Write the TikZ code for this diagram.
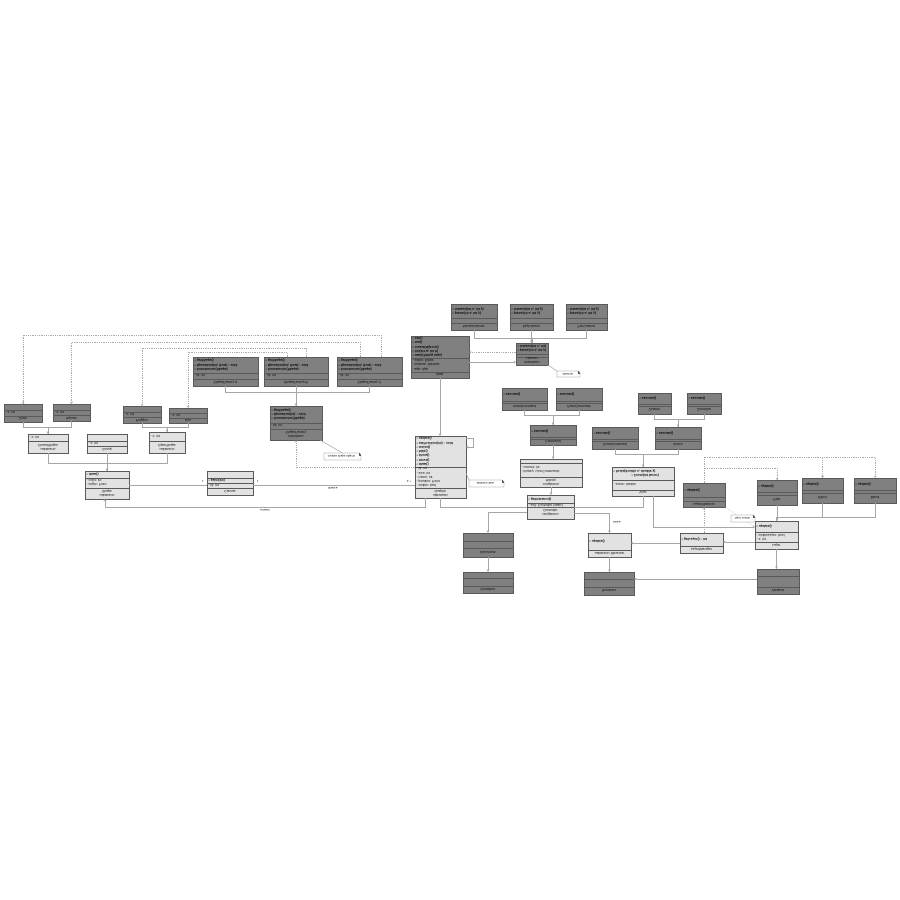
\documentclass[tikz,border=0pt]{standalone}
\usepackage{fontspec}
\setmainfont{Liberation Sans}
\newfontfamily\djv{DejaVu Sans}
\usetikzlibrary{fit,arrows.meta}
\definecolor{dkfill}{HTML}{808080}
\definecolor{ltfill}{HTML}{E2E2E2}
\definecolor{bdr}{HTML}{5A5A5A}
\definecolor{wirec}{HTML}{A6A6A6}
\definecolor{dotc}{HTML}{ABABAB}
\tikzset{
  darkcls/.style={draw=bdr, fill=dkfill, line width=0.5pt},
  lightcls/.style={draw=bdr, fill=ltfill, line width=0.5pt},
  cmpsep/.style={draw=bdr, line width=0.35pt},
  txt/.style={font=\fontsize{3.3}{4.3}\selectfont, inner sep=0pt, yscale=-1, align=left, anchor=west},
  nm/.style={txt, align=center, anchor=center},
  lbl/.style={font=\fontsize{2.8}{3.2}\selectfont, inner sep=0pt, yscale=-1},
  wire/.style={draw=wirec, line width=0.55pt},
  genarr/.style={wire, -{Triangle[open, length=2.4pt, width=2.6pt]}},
  barb/.style={wire, -{Straight Barb[length=1.8pt, width=2.4pt]}},
  deparr/.style={draw=dotc, line width=0.55pt, dash pattern=on 0.6pt off 1.2pt, -{Straight Barb[length=1.8pt, width=2.4pt]}},
  dotline/.style={draw=dotc, line width=0.55pt, dash pattern=on 0.6pt off 1.2pt},
}
\newcommand{\ubox}[7]{%
  \coordinate (#1-nw) at (#2,#3);
  \coordinate (#1-se) at (#4,#5);
  \node[#6, fit=(#1-nw)(#1-se), inner sep=0pt, outer sep=0pt] (#1) {};
  \foreach \sy in {#7} {\draw[cmpsep] (#2,\sy) -- (#4,\sy);}
}
\newcommand{\unote}[5]{%
  \coordinate (#1-nw) at (#2,#3);
  \coordinate (#1-se) at (#4,#5);
  \node[fit=(#1-nw)(#1-se), inner sep=0pt, outer sep=0pt] (#1) {};
  \filldraw[draw=bdr, fill=white, line width=0.4pt] (#2,#3) -- (#4-2,#3) -- (#4,#3+2) -- (#4,#5) -- (#2,#5) -- cycle;
  \draw[bdr, line width=0.3pt] (#4-2,#3) -- (#4-2,#3+2) -- (#4,#3+2);
}
\begin{document}
\begin{tikzpicture}[x=1pt, y=-1pt]
\useasboundingbox (0,0) rectangle (900,900);
\fill[white] (0,0) rectangle (900,900);

% ---------- boxes ----------
\ubox{A1}{4}{404}{42}{422}{darkcls}{410,416}
\node[txt] (A1a) at (5.5,413) {- x: int};
\node[nm] (A1n) at (23,419) {Circle};
\ubox{A2}{53}{404}{90}{421}{darkcls}{410,415}
\node[txt] (A2a) at (54.5,412.5) {- x: int};
\node[nm] (A2n) at (71.5,418) {Square};
\ubox{A3}{123}{406}{161}{423}{darkcls}{412,417}
\node[txt] (A3a) at (124.5,414.5) {- x: int};
\node[nm] (A3n) at (142,420) {Polygon};
\ubox{A4}{169}{408}{207}{423}{darkcls}{413,418}
\node[txt] (A4a) at (170.5,415.5) {- x: int};
\node[nm] (A4n) at (188,420.5) {Line};

\ubox{B1}{28}{434}{68}{453}{lightcls}{441}
\node[txt] (B1a) at (29.5,437.5) {- x: int};
\node[nm] (B1n) at (48,447) {«abstract»\\ClosedShape};
\ubox{B2}{87}{434}{127}{453}{lightcls}{441,446}
\node[txt] (B2a) at (88.5,443.5) {- x: int};
\node[nm] (B2n) at (107,449.5) {Group};
\ubox{B3}{149}{432}{185}{453}{lightcls}{441}
\node[txt] (B3a) at (150.5,436.5) {- x: int};
\node[nm] (B3n) at (167,447) {«abstract»\\OpenShape};

\ubox{C1}{85}{471}{129}{499}{lightcls}{478,488}
\node[txt] (C1m) at (86.5,474.5) {\textbf{• draw()}};
\node[txt] (C1a) at (86.5,483) {- origin: Point\\- color: int};
\node[nm] (C1n) at (107,493.5) {«abstract»\\Shape};

\ubox{D}{207}{471}{253}{495}{lightcls}{478,483,488}
\node[txt] (Dm) at (208.5,480.5) {\textbf{• paint(int)}};
\node[txt] (Da) at (208.5,485.5) {- id: int};
\node[nm] (Dn) at (230,491.5) {Canvas};

\ubox{E1}{193}{357}{258}{386}{darkcls}{373,379}
\node[txt] (E1m) at (194.5,365) {\textbf{• Constructor(Shape)}\\\textbf{• Operation(int, float) : void}\\\textbf{• getShape()}};
\node[txt] (E1a) at (194.5,376) {- id: int};
\node[nm] (E1n) at (225.5,382.5) {ShapeFactory A};
\ubox{E2}{264}{357}{328}{386}{darkcls}{373,379}
\node[txt] (E2m) at (265.5,365) {\textbf{• Constructor(Shape)}\\\textbf{• Operation(int, float) : void}\\\textbf{• getShape()}};
\node[txt] (E2a) at (265.5,376) {- id: int};
\node[nm] (E2n) at (296,382.5) {ShapeFactory B};
\ubox{E3}{337}{357}{402}{386}{darkcls}{373,379}
\node[txt] (E3m) at (338.5,365) {\textbf{• Constructor(Shape)}\\\textbf{• Operation(int, float) : void}\\\textbf{• getShape()}};
\node[txt] (E3a) at (338.5,376) {- id: int};
\node[nm] (E3n) at (369.5,382.5) {ShapeFactory C};

\ubox{F}{270}{406}{322}{440}{darkcls}{423,429}
\node[txt] (Fm) at (271.5,414.5) {\textbf{• Constructor(Shape)}\\\textbf{• Operation(int) : void}\\\textbf{• getShape()}};
\node[txt] (Fa) at (271.5,426) {- id: int};
\node[nm] (Fn) at (296,434.5) {«interface»\\ShapeFactory};

\ubox{G}{415}{436}{466}{498}{lightcls}{467,488}
\node[txt] (Gm) at (416.5,451.5) {\textbf{• draw()}\\\textbf{• move()}\\\textbf{• show()}\\\textbf{• hide()}\\\textbf{• resize()}\\\textbf{• setPosition(int) : void}\\\textbf{• update()}};
\node[txt] (Ga) at (416.5,477.5) {- visible: bool\\- position: Point\\- name: str\\- size: int\\- id: int};
\node[nm] (Gn) at (440.5,493) {«abstract»\\Graphic};

\ubox{H}{411}{336}{469}{378}{darkcls}{358,372}
\node[txt] (Hm) at (412.5,347) {\textbf{• main(String args)}\\\textbf{• init(int w, int h)}\\\textbf{• createObjects()}\\\textbf{• run()}\\\textbf{• exit()}};
\node[txt] (Ha) at (412.5,365) {- app: App\\- window: Window\\- editor: Editor};
\node[nm] (Hn) at (440,375) {Main};

\ubox{I1}{451}{304}{497}{330}{darkcls}{318,323}
\node[txt] (I1m) at (452.5,311) {\textbf{• press(int x, int y)}\\\textbf{• release(int x, int y)}};
\node[nm] (I1n) at (474,326.5) {MouseListener};
\ubox{I2}{510}{304}{553}{330}{darkcls}{318,323}
\node[txt] (I2m) at (511.5,311) {\textbf{• press(int x, int y)}\\\textbf{• release(int x, int y)}};
\node[nm] (I2n) at (531.5,326.5) {KeyListener};
\ubox{I3}{566}{304}{607}{330}{darkcls}{318,323}
\node[txt] (I3m) at (567.5,311) {\textbf{• press(int x, int y)}\\\textbf{• release(int x, int y)}};
\node[nm] (I3n) at (586.5,326.5) {PenListener};

\ubox{J}{516}{343}{548}{365}{darkcls}{354,357}
\node[txt] (Jm) at (517.5,348.5) {\textbf{• press(int x, int y)}\\\textbf{• release(int x, int)}};
\node[nm] (Jn) at (532,361) {«interface»\\Listener};

\ubox{K1}{502}{388}{547}{410}{darkcls}{401,403}
\node[txt] (K1m) at (503.5,394.5) {\textbf{• execute()}};
\node[nm] (K1n) at (524.5,406.5) {UndoCommand};
\ubox{K2}{556}{388}{602}{410}{darkcls}{401,403}
\node[txt] (K2m) at (557.5,394.5) {\textbf{• execute()}};
\node[nm] (K2n) at (579,406.5) {RedoCommand};

\ubox{L}{530}{425}{576}{445}{darkcls}{437,439}
\node[txt] (Lm) at (531.5,431) {\textbf{• execute()}};
\node[nm] (Ln) at (553,442) {Command};

\ubox{M}{520}{459}{582}{487}{lightcls}{463,477}
\node[txt] (Ma) at (521.5,470) {- history: List<Command>\\- current: int};
\node[nm] (Mn) at (551,482) {«singleton»\\History};

\ubox{N}{527}{495}{574}{519}{lightcls}{503,507}
\node[txt] (Nm) at (528.5,499) {\textbf{• getInstance()}};
\node[txt] (Na) at (528.5,505) {- self: Controller (static)};
\node[nm] (Nn) at (550.5,513) {«singleton»\\Controller};

\ubox{O1}{463}{533}{513}{557}{darkcls}{541,548}
\node[nm] (O1n) at (488,552.5) {Document};
\ubox{O2}{463}{572}{513}{593}{darkcls}{578,586}
\node[nm] (O2n) at (488,589.5) {DocWriter};

\ubox{P}{588}{533}{631}{557}{lightcls}{550}
\node[txt] (Pm) at (589.5,541.5) {\textbf{• update()}};
\node[nm] (Pn) at (609.5,553.5) {«abstract» Observer};
\ubox{Q}{584}{572}{634}{595}{darkcls}{579,587}
\node[nm] (Qn) at (609,591) {Renderer};

\ubox{R}{680}{533}{723}{553}{lightcls}{546}
\node[txt] (Rm) at (681.5,539.5) {\textbf{• getLayer() : int}};
\node[nm] (Rn) at (701.5,549.5) {LayerManager};

\ubox{S}{755}{521}{798}{549}{lightcls}{532,542}
\node[txt] (Sm) at (756.5,526.5) {\textbf{• update()}};
\node[txt] (Sa) at (756.5,537) {- z: int\\- visibleLayer: bool};
\node[nm] (Sn) at (776.5,545.5) {Layer};
\ubox{T}{757}{569}{799}{594}{darkcls}{576,587}
\node[nm] (Tn) at (778,590.5) {Viewport};

\ubox{U}{612}{467}{674}{496}{lightcls}{480,490}
\node[txt] (Um) at (613.5,473.5) {\textbf{\hspace*{18pt}• Zoom(int factor)}\\\textbf{• Scale(double x, double y)}};
\node[txt] (Ua) at (613.5,485) {- zoom: double};
\node[nm] (Un) at (643,493) {View};

\ubox{V1}{592}{427}{638}{449}{darkcls}{439,441}
\node[txt] (V1m) at (593.5,433) {\textbf{• execute()}};
\node[nm] (V1n) at (615,445) {ZoomCommand};
\ubox{V2}{655}{427}{701}{449}{darkcls}{439,441}
\node[txt] (V2m) at (656.5,433) {\textbf{• execute()}};
\node[nm] (V2n) at (678,445) {Action};

\ubox{W1}{638}{393}{671}{414}{darkcls}{404,406}
\node[txt] (W1m) at (639.5,398.5) {\textbf{• execute()}};
\node[nm] (W1n) at (654.5,410) {ZoomIn};
\ubox{W2}{687}{393}{721}{414}{darkcls}{404,406}
\node[txt] (W2m) at (688.5,398.5) {\textbf{• execute()}};
\node[nm] (W2n) at (704,410) {ZoomOut};

\ubox{X}{683}{483}{725}{507}{darkcls}{497,501}
\node[txt] (Xm) at (684.5,490) {\textbf{• update()}};
\node[nm] (Xn) at (704,504) {LayerObserver};

\ubox{Y1}{757}{480}{797}{505}{darkcls}{492,495}
\node[txt] (Y1m) at (758.5,486) {\textbf{• update()}};
\node[nm] (Y1n) at (777,500) {Filter};
\ubox{Y2}{802}{478}{843}{503}{darkcls}{490,493}
\node[txt] (Y2m) at (803.5,484) {\textbf{• update()}};
\node[nm] (Y2n) at (822.5,498) {Effect};
\ubox{Y3}{854}{478}{896}{503}{darkcls}{490,493}
\node[txt] (Y3m) at (855.5,484) {\textbf{• update()}};
\node[nm] (Y3n) at (875,498) {Blend};

% ---------- connectors ----------
\draw[deparr] ([xshift=11.5pt]E3.north) -- ++(0,-22) -| (A1.north);
\draw[deparr] ([xshift=-9.5pt]E3.north) -- ++(0,-15) -| (A2.north);
\draw[deparr] ([xshift=10pt]E2.north) -- ++(0,-9) -| (A3.north);
\draw[deparr] ([xshift=-9pt]E2.north) -- ++(0,-5) -| (A4.north);

\draw[wire] (A1.south) -- ++(0,5) -| (B1.north);
\draw[genarr] (A2.south) -- ++(0,6) -| (B1.north);
\draw[wire] (A3.south) -- ++(0,4) -| (B3.north);
\draw[genarr] (A4.south) -- ++(0,4) -| (B3.north);

\draw[wire] (B1.south) -- ++(0,10) -| (C1.north);
\draw[wire] (B3.south) -- ++(0,10) -| (C1.north);
\draw[genarr] (B2.south) -- (C1.north);

\draw[wire] (E1.south) -- ++(0,6) -| (F.north);
\draw[wire] (E3.south) -- ++(0,6) -| (F.north);
\draw[genarr] (E2.south) -- (F.north);

\draw[deparr] (G.west) -| (F.south);
\draw[genarr] (H.south) -- (H.south |- G.north);
\draw[barb] ([yshift=-2pt]G.north east) -- ++(7,0) -- ++(0,9) -- ++(-7,0);

\draw[wire] (C1.east) -- (C1.east -| D.west);
\draw[wire] ([yshift=-2pt]D.east) -- ([yshift=-2pt]D.east -| G.west);
\draw[wire, {Straight Barb[length=1.8pt, width=2.4pt]}-] ([xshift=-2pt]C1.south) -- ++(0,8) -| ([xshift=-15.5pt]G.south);
\draw[wire] (G.south) |- (N.west);
\draw[wire] (U.south) |- (N.east);
\draw[genarr] ([yshift=-5pt]N.west) -| (O1.north);
\draw[genarr] ([yshift=-6pt]N.east) -| (P.north);
\draw[genarr] (O1.south) -- (O2.north);
\draw[genarr] (P.south) -- (P.south |- Q.north);
\draw[barb] (R.west) -- (R.west -| P.east);
\draw[wire, {Diamond[open, length=3.2pt, width=2.2pt]}-] ([yshift=1pt]R.east) -- ([yshift=1pt]R.east -| S.west);
\draw[wire, {Diamond[open, length=3.2pt, width=2.2pt]}-] ([yshift=4.5pt]Q.east) -- ([yshift=4.5pt]Q.east -| T.west);
\draw[genarr] (S.south) -- (S.south |- T.north);
\draw[barb] ([xshift=10pt]U.south) |- ([yshift=8pt]S.west);

\draw[wire] (V1.south) -- ++(0,5) -| (U.north);
\draw[genarr] (V2.south) -- ++(0,5) -| (U.north);
\draw[wire] (W1.south) -- ++(0,5) -| (V2.north);
\draw[genarr] (W2.south) -- ++(0,5) -| (V2.north);

\draw[wire] (K1.south) -- ++(0,5) -| (L.north);
\draw[genarr] (K2.south) -- ++(0,5) -| (L.north);
\draw[genarr] (L.south) -- (L.south |- M.north);
\draw[genarr] (M.south) -- (M.south |- N.north);

\draw[wire] (I1.south) -- ++(0,8) -| (J.north);
\draw[wire] (I3.south) -- ++(0,8) -| (J.north);
\draw[genarr] (I2.south) -- (I2.south |- J.north);
\draw[deparr] ([yshift=2pt]J.west) -- ([yshift=2pt]J.west -| H.east);
\draw[barb] ([yshift=-8pt]J.west -| H.east) -- ([yshift=-8pt]J.west);

\draw[deparr] (X.north) -- ++(0,-26) -| (Y3.north);
\draw[deparr] (X.north) -- ++(0,-26) -| (Y2.north);
\draw[deparr] (X.north) -- ++(0,-15) -| (Y1.north);
\draw[genarr] (Y1.south) -- (Y1.south |- S.north);
\draw[wire] (Y2.south) -- ++(0,14) -| (S.north);
\draw[wire] (Y3.south) -- ++(0,14) -| (S.north);
\draw[deparr] (X.south |- R.north) -- (X.south);
\draw[dotline] (X.south east) -- ([yshift=8pt]S.west);

% ---------- notes ----------
\unote{Fnote}{324}{453}{361}{460}
\node[lbl] (FnoteT) at (341.5,456.5) {creates shape objects};
\draw[wire] ([xshift=-2pt]F.south east) -- (Fnote.north);
\unote{Gnote}{469}{480}{504}{487}
\node[lbl] (GnoteT) at (485.5,483.5) {abstract class};
\draw[wire] ([yshift=-6pt]G.east) -- (Gnote.north west);
\unote{Jnote}{557}{371}{580}{377}
\node[lbl] (JnoteT) at (568,374) {observer};
\draw[wire] (J.south east) -- (Jnote.north west);
\unote{Xnote}{731}{515}{755}{522}
\node[lbl] (XnoteT) at (742.5,518.5) {layer events};

% ---------- labels ----------
\node[lbl] (mA) at (203,481.5) {1};
\node[lbl] (mB) at (258,481.5) {1};
\node[lbl] (mC) at (409,481.5) {0..*};
\node[lbl] (mD) at (333,488.5) {draws {\djv ▸}};
\node[lbl] (mE) at (265,510) {{\djv ◂} owner};
\node[lbl] (mF) at (617,522) {view {\djv ▸}};
\end{tikzpicture}
\end{document}
